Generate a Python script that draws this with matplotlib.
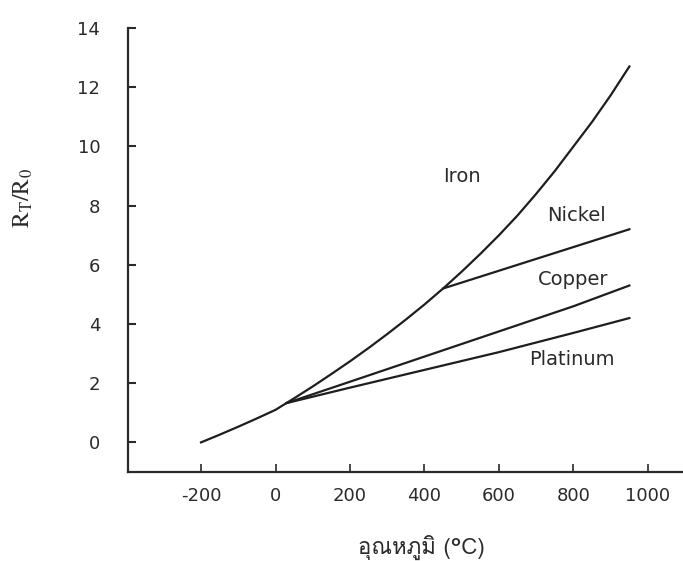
import os
import matplotlib
matplotlib.use("Agg")
import matplotlib.pyplot as plt
from matplotlib import font_manager

# ---- data ----
iron_t = [-200, -150, -100, -50, 0, 50, 100, 150, 200, 250, 300, 350, 400, 450,
          500, 550, 600, 650, 700, 750, 800, 850, 900, 950]
iron_r = [0.0, 0.26, 0.53, 0.81, 1.1, 1.49, 1.89, 2.31, 2.74, 3.19, 3.66, 4.15,
          4.66, 5.2, 5.77, 6.37, 7.0, 7.67, 8.4, 9.17, 10.0, 10.83, 11.73, 12.7]
nickel_t = [450, 950]
nickel_r = [5.2, 7.2]
copper_t = [30, 200, 400, 600, 800, 950]
copper_r = [1.33, 2.05, 2.9, 3.75, 4.6, 5.3]
platinum_t = [30, 200, 400, 600, 800, 950]
platinum_r = [1.33, 1.85, 2.45, 3.05, 3.7, 4.2]
x_ticks = [-200, 0, 200, 400, 600, 800, 1000]
y_ticks = [0, 2, 4, 6, 8, 10, 12, 14]
labels = {"Iron": (501, 8.97), "Nickel": (809, 7.68), "Copper": (799, 5.49), "Platinum": (796, 2.8)}
xlabel = "อุณหภูมิ (°C)"

# ---- find a font with Thai glyphs ----
thai_prop = None
preferred = "/usr/share/fonts/opentype/tlwg/Loma.otf"
if os.path.exists(preferred):
    thai_prop = font_manager.FontProperties(fname=preferred, size=16)
else:
    try:
        from fontTools.ttLib import TTFont
        for f in sorted(font_manager.findSystemFonts()):
            if "unifont" in f.lower():
                continue
            try:
                tt = TTFont(f, fontNumber=0, lazy=True)
                cmap = tt.getBestCmap()
                if cmap and 0x0E2D in cmap and 0x0E13 in cmap:
                    thai_prop = font_manager.FontProperties(fname=f, size=16)
                    break
            except Exception:
                pass
    except Exception:
        pass
if thai_prop is None:
    thai_prop = font_manager.FontProperties(family="DejaVu Sans", size=14)

plt.rcParams["font.family"] = ["DejaVu Sans"]
plt.rcParams["mathtext.fontset"] = "stix"

fig = plt.figure(figsize=(6.83, 5.61), dpi=100)
ax = fig.add_axes([128 / 683, 89 / 561, 555 / 683, 444 / 561])

lc = "#1e1e1e"
lw = 1.6
ax.plot(iron_t, iron_r, color=lc, lw=lw)
ax.plot(nickel_t, nickel_r, color=lc, lw=lw)
ax.plot(copper_t, copper_r, color=lc, lw=lw)
ax.plot(platinum_t, platinum_r, color=lc, lw=lw)

for name, (x, y) in labels.items():
    ax.text(x, y, name, ha="center", va="center", fontsize=14, color="#2a2a2a")

ax.set_xlim(-396, 1094)
ax.set_ylim(-1, 14)
ax.set_xticks(x_ticks)
ax.set_yticks(y_ticks)
ax.set_xticklabels([str(v) for v in x_ticks])
ax.set_yticklabels([str(v) for v in y_ticks])

for s in ["top", "right"]:
    ax.spines[s].set_visible(False)
for s in ["left", "bottom"]:
    ax.spines[s].set_linewidth(1.6)
    ax.spines[s].set_color("#2a2a2a")

ax.tick_params(axis="y", direction="in", length=6, width=1.5, pad=20,
               labelsize=13, colors="#2a2a2a")
ax.tick_params(axis="x", direction="in", length=6, width=1.2, pad=11,
               labelsize=13, colors="#2a2a2a")

fig.text(23 / 683, 1 - 198 / 561, r"$\mathrm{R_T/R_0}$", rotation=90,
         ha="center", va="center", fontsize=17, color="#2a2a2a")
fig.text(421 / 683, 1 - 547 / 561, xlabel, ha="center", va="center",
         fontproperties=thai_prop, color="#2a2a2a")

fig.savefig("out.png", dpi=100)
